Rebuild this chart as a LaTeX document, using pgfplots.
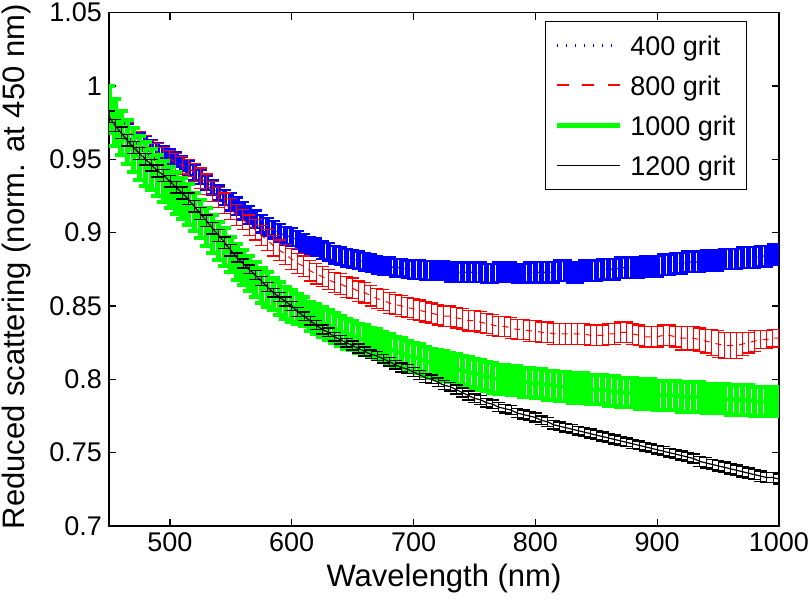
\documentclass[border=0pt]{standalone}
\usepackage{fontspec}
\setmainfont{Liberation Sans}
\usepackage{pgfplots}
\usepackage{pgfplotstable}
\pgfplotsset{compat=1.18}

\pgfplotstableread{
x y e
450 0.980 0.005
455 0.976 0.005
460 0.972 0.005
465 0.969 0.005
470 0.966 0.005
475 0.963 0.005
480 0.961 0.005
485 0.958 0.005
490 0.956 0.005
495 0.954 0.005
500 0.952 0.005
505 0.950 0.005
510 0.947 0.005
515 0.944 0.005
520 0.941 0.005
525 0.938 0.005
530 0.934 0.005
535 0.931 0.005
540 0.927 0.005
545 0.924 0.005
550 0.921 0.006
555 0.918 0.006
560 0.915 0.006
565 0.912 0.006
570 0.909 0.006
575 0.906 0.006
580 0.904 0.006
585 0.902 0.006
590 0.900 0.006
595 0.898 0.006
600 0.897 0.006
605 0.895 0.006
610 0.893 0.006
615 0.891 0.006
620 0.890 0.006
625 0.888 0.006
630 0.887 0.006
635 0.885 0.006
640 0.884 0.006
645 0.883 0.006
650 0.882 0.006
655 0.881 0.006
660 0.880 0.006
665 0.879 0.006
670 0.878 0.006
675 0.877 0.006
680 0.877 0.006
685 0.876 0.006
690 0.876 0.006
695 0.875 0.006
700 0.875 0.0065
705 0.875 0.0065
710 0.874 0.0065
715 0.874 0.0065
720 0.874 0.0065
725 0.874 0.0065
730 0.873 0.0065
735 0.873 0.0065
740 0.873 0.0065
745 0.873 0.0065
750 0.873 0.0065
755 0.873 0.0065
760 0.872 0.0065
765 0.872 0.0065
770 0.873 0.0065
775 0.873 0.0065
780 0.873 0.0065
785 0.872 0.0065
790 0.872 0.0065
795 0.873 0.0065
800 0.873 0.007
805 0.873 0.007
810 0.873 0.007
815 0.873 0.007
820 0.874 0.007
825 0.874 0.007
830 0.873 0.007
835 0.873 0.007
840 0.874 0.007
845 0.874 0.007
850 0.874 0.007
855 0.875 0.007
860 0.875 0.007
865 0.875 0.007
870 0.876 0.007
875 0.876 0.007
880 0.876 0.007
885 0.876 0.007
890 0.877 0.007
895 0.877 0.007
900 0.877 0.007
905 0.878 0.007
910 0.878 0.007
915 0.879 0.007
920 0.879 0.007
925 0.880 0.007
930 0.880 0.007
935 0.880 0.007
940 0.881 0.007
945 0.881 0.007
950 0.881 0.007
955 0.882 0.007
960 0.882 0.007
965 0.882 0.007
970 0.883 0.007
975 0.883 0.007
980 0.883 0.007
985 0.884 0.007
990 0.884 0.007
995 0.885 0.007
1000 0.885 0.007
}\bluedata

\pgfplotstableread{
x y e
450 0.978 0.006
455 0.975 0.006
460 0.972 0.006
465 0.969 0.006
470 0.966 0.006
475 0.963 0.006
480 0.960 0.006
485 0.957 0.006
490 0.955 0.006
495 0.952 0.006
500 0.950 0.006
505 0.948 0.006
510 0.946 0.006
515 0.944 0.006
520 0.941 0.006
525 0.937 0.007
530 0.933 0.007
535 0.928 0.007
540 0.924 0.007
545 0.920 0.007
550 0.916 0.007
555 0.912 0.007
560 0.909 0.007
565 0.905 0.007
570 0.902 0.007
575 0.898 0.007
580 0.895 0.007
585 0.891 0.007
590 0.888 0.007
595 0.885 0.007
600 0.882 0.007
605 0.879 0.007
610 0.877 0.007
615 0.874 0.007
620 0.872 0.007
625 0.870 0.007
630 0.868 0.007
635 0.866 0.007
640 0.865 0.007
645 0.863 0.007
650 0.862 0.007
655 0.860 0.007
660 0.859 0.007
665 0.857 0.007
670 0.855 0.007
675 0.854 0.007
680 0.852 0.007
685 0.851 0.007
690 0.850 0.007
695 0.849 0.007
700 0.848 0.007
705 0.847 0.007
710 0.846 0.007
715 0.845 0.007
720 0.844 0.007
725 0.843 0.007
730 0.843 0.007
735 0.842 0.007
740 0.841 0.007
745 0.840 0.007
750 0.840 0.007
755 0.839 0.007
760 0.838 0.007
765 0.837 0.007
770 0.836 0.007
775 0.836 0.007
780 0.835 0.007
785 0.834 0.007
790 0.834 0.007
795 0.833 0.007
800 0.833 0.007
805 0.832 0.007
810 0.832 0.007
815 0.831 0.007
820 0.831 0.007
825 0.831 0.007
830 0.831 0.007
835 0.831 0.007
840 0.831 0.007
845 0.830 0.007
850 0.830 0.007
855 0.830 0.007
860 0.831 0.007
865 0.831 0.007
870 0.832 0.007
875 0.832 0.007
880 0.831 0.007
885 0.830 0.007
890 0.829 0.007
895 0.829 0.007
900 0.829 0.007
905 0.830 0.007
910 0.830 0.007
915 0.829 0.007
920 0.828 0.008
925 0.828 0.008
930 0.828 0.008
935 0.827 0.008
940 0.826 0.008
945 0.825 0.009
950 0.824 0.009
955 0.823 0.009
960 0.823 0.009
965 0.823 0.009
970 0.824 0.008
975 0.825 0.007
980 0.826 0.007
985 0.827 0.006
990 0.827 0.006
995 0.828 0.006
1000 0.828 0.006
}\reddata

\pgfplotstableread{
x y e
450 0.984 0.016
455 0.975 0.016
460 0.968 0.015
465 0.962 0.015
470 0.956 0.015
475 0.951 0.015
480 0.947 0.015
485 0.943 0.014
490 0.939 0.014
495 0.935 0.014
500 0.931 0.014
505 0.927 0.014
510 0.923 0.014
515 0.919 0.014
520 0.914 0.013
525 0.909 0.013
530 0.904 0.013
535 0.899 0.013
540 0.894 0.013
545 0.890 0.013
550 0.885 0.012
555 0.880 0.012
560 0.876 0.012
565 0.872 0.012
570 0.868 0.012
575 0.864 0.012
580 0.861 0.012
585 0.858 0.011
590 0.855 0.011
595 0.852 0.011
600 0.850 0.011
605 0.848 0.010
610 0.846 0.010
615 0.843 0.010
620 0.841 0.010
625 0.839 0.010
630 0.837 0.010
635 0.835 0.010
640 0.833 0.010
645 0.831 0.010
650 0.830 0.010
655 0.828 0.010
660 0.827 0.010
665 0.825 0.010
670 0.824 0.010
675 0.822 0.010
680 0.821 0.010
685 0.819 0.010
690 0.818 0.010
695 0.816 0.010
700 0.815 0.010
705 0.814 0.010
710 0.812 0.010
715 0.811 0.010
720 0.810 0.010
725 0.809 0.010
730 0.808 0.010
735 0.807 0.010
740 0.806 0.010
745 0.805 0.010
750 0.804 0.010
755 0.803 0.010
760 0.802 0.010
765 0.801 0.010
770 0.800 0.010
775 0.800 0.010
780 0.799 0.010
785 0.799 0.010
790 0.798 0.010
795 0.798 0.010
800 0.797 0.010
805 0.797 0.010
810 0.796 0.010
815 0.796 0.010
820 0.795 0.010
825 0.795 0.010
830 0.794 0.010
835 0.794 0.010
840 0.794 0.010
845 0.793 0.010
850 0.793 0.010
855 0.793 0.010
860 0.792 0.010
865 0.792 0.010
870 0.791 0.010
875 0.791 0.010
880 0.791 0.010
885 0.790 0.010
890 0.790 0.010
895 0.790 0.010
900 0.789 0.010
905 0.789 0.010
910 0.789 0.010
915 0.789 0.010
920 0.788 0.010
925 0.788 0.010
930 0.788 0.010
935 0.788 0.010
940 0.787 0.010
945 0.787 0.010
950 0.787 0.010
955 0.787 0.010
960 0.786 0.010
965 0.786 0.010
970 0.786 0.010
975 0.786 0.010
980 0.785 0.010
985 0.785 0.010
990 0.785 0.010
995 0.785 0.010
1000 0.785 0.010
}\greendata

\pgfplotstableread{
x y e
450 0.979 0.004
455 0.973 0.004
460 0.968 0.004
465 0.963 0.004
470 0.958 0.004
475 0.954 0.004
480 0.950 0.004
485 0.946 0.004
490 0.942 0.004
495 0.939 0.004
500 0.935 0.004
505 0.931 0.004
510 0.927 0.004
515 0.923 0.004
520 0.918 0.004
525 0.913 0.004
530 0.908 0.004
535 0.903 0.004
540 0.898 0.004
545 0.893 0.004
550 0.888 0.004
555 0.883 0.003
560 0.879 0.003
565 0.875 0.003
570 0.871 0.003
575 0.867 0.003
580 0.863 0.003
585 0.859 0.003
590 0.856 0.003
595 0.853 0.003
600 0.850 0.003
605 0.846 0.003
610 0.843 0.003
615 0.840 0.003
620 0.837 0.003
625 0.834 0.003
630 0.832 0.003
635 0.829 0.003
640 0.827 0.003
645 0.825 0.003
650 0.823 0.003
655 0.821 0.003
660 0.819 0.003
665 0.817 0.003
670 0.816 0.003
675 0.814 0.003
680 0.812 0.003
685 0.810 0.003
690 0.808 0.003
695 0.807 0.003
700 0.805 0.003
705 0.803 0.003
710 0.801 0.003
715 0.800 0.003
720 0.798 0.003
725 0.796 0.003
730 0.795 0.003
735 0.793 0.003
740 0.791 0.003
745 0.789 0.003
750 0.787 0.003
755 0.786 0.003
760 0.784 0.003
765 0.783 0.003
770 0.781 0.003
775 0.780 0.003
780 0.779 0.003
785 0.777 0.003
790 0.776 0.003
795 0.775 0.003
800 0.774 0.003
805 0.772 0.003
810 0.771 0.003
815 0.769 0.003
820 0.768 0.003
825 0.767 0.003
830 0.766 0.003
835 0.765 0.003
840 0.764 0.003
845 0.763 0.003
850 0.762 0.003
855 0.761 0.003
860 0.760 0.003
865 0.759 0.003
870 0.758 0.003
875 0.757 0.003
880 0.756 0.003
885 0.755 0.003
890 0.754 0.003
895 0.753 0.003
900 0.752 0.003
905 0.751 0.003
910 0.750 0.003
915 0.749 0.003
920 0.748 0.003
925 0.747 0.003
930 0.746 0.003
935 0.744 0.0035
940 0.743 0.0035
945 0.742 0.0035
950 0.741 0.0035
955 0.740 0.0035
960 0.739 0.0035
965 0.738 0.0035
970 0.737 0.0035
975 0.736 0.0035
980 0.735 0.0035
985 0.734 0.0035
990 0.733 0.0035
995 0.733 0.0035
1000 0.732 0.0035
}\blackdata

\definecolor{mblue}{rgb}{0,0,1}
\definecolor{mred}{rgb}{1,0,0}
\definecolor{mgreen}{rgb}{0,1,0}

\begin{document}
\begin{tikzpicture}
\useasboundingbox (-54.5pt,-41pt) rectangle (350.5pt,263pt);
\begin{axis}[
  at={(0pt,0pt)}, anchor=south west,
  width=335pt, height=256.7pt, scale only axis,
  xmin=450, xmax=1000, ymin=0.7, ymax=1.05,
  xtick={500,600,700,800,900,1000},
  xticklabels={500,600,700,800,900,1000},
  ytick={0.7,0.75,0.8,0.85,0.9,0.95,1,1.05},
  yticklabels={0.7,0.75,0.8,0.85,0.9,0.95,1,1.05},
  scaled ticks=false,
  tick align=inside,
  major tick length=3.5pt,
  axis line style={line width=0.8pt},
  every tick/.style={black, line width=0.6pt},
  /pgf/number format/assume math mode=true,
  tick label style={font=\fontsize{13.5}{16}\selectfont},
  xlabel={Wavelength (nm)},
  ylabel={Reduced scattering (norm. at 450 nm)},
  every axis x label/.style={at={(axis description cs:0.5,-0.1013)}, anchor=center,
    font=\fontsize{15.5}{18}\selectfont},
  every axis y label/.style={at={(axis description cs:-0.1388,0.505)}, rotate=90, anchor=center,
    font=\fontsize{15.5}{18}\selectfont},
  legend style={at={(1,1)}, anchor=north east, xshift=-16pt, yshift=-4pt,
    line width=0.6pt, fill=white,
    font=\fontsize{13.5}{16}\selectfont,
    inner xsep=5.5pt, inner ysep=7pt, row sep=10pt,
    nodes={inner sep=0pt, text height=10pt, text depth=0pt},
    /tikz/every odd column/.append style={column sep=5.3pt}},
  legend cell align=left,
]
\addplot[mblue, densely dotted, line width=0.6pt, mark=none,
  legend image code/.code={\foreach \i in {0,4.5,...,31}{\path[fill=mblue, draw=none] (\i pt,-0.8pt) rectangle ++(0.7pt,1.6pt);}},
  error bars/.cd, y dir=both, y explicit,
  error bar style={solid, line width=2.7pt, mblue},
  error mark options={rotate=90, solid, line width=1.2pt, mark size=3.2pt, mblue}]
  table[x=x, y=y, y error=e] {\bluedata};
\addlegendentry{400 grit}
\addplot[mred, dashed, line width=0.5pt, mark=none,
  legend image code/.code={\foreach \i in {0,12.75,25.5}{\path[fill=mred, draw=none] (\i pt,-0.45pt) rectangle ++(6pt,0.9pt);}},
  error bars/.cd, y dir=both, y explicit,
  error bar style={solid, line width=0.5pt, mred},
  error mark options={rotate=90, solid, line width=0.6pt, mark size=3.2pt, mred}]
  table[x=x, y=y, y error=e] {\reddata};
\addlegendentry{800 grit}
\addplot[mgreen, line width=2pt, mark=none,
  legend image code/.code={\path[fill=mgreen, draw=none] (0pt,-1.2pt) rectangle (31.5pt,1.2pt);},
  error bars/.cd, y dir=both, y explicit,
  error bar style={solid, line width=2.7pt, mgreen},
  error mark options={rotate=90, solid, line width=2pt, mark size=3.2pt, mgreen}]
  table[x=x, y=y, y error=e] {\greendata};
\addlegendentry{1000 grit}
\addplot[black, line width=0.6pt, mark=none,
  legend image code/.code={\path[fill=black, draw=none] (0pt,-0.3pt) rectangle (31.5pt,0.3pt);},
  error bars/.cd, y dir=both, y explicit,
  error bar style={solid, line width=0.4pt, black},
  error mark options={rotate=90, solid, line width=0.7pt, mark size=3.2pt, black}]
  table[x=x, y=y, y error=e] {\blackdata};
\addlegendentry{1200 grit}
\end{axis}
\end{tikzpicture}
\end{document}
